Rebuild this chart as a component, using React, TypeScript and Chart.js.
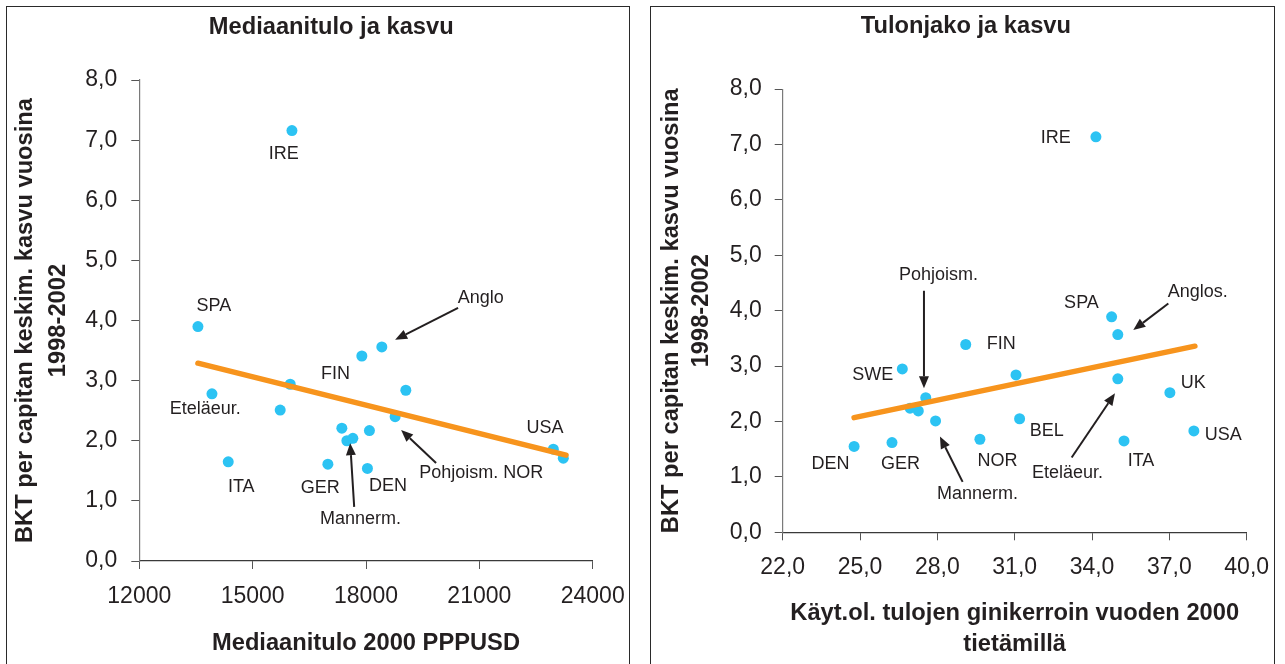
import React, { useEffect, useRef } from 'react';
import { Chart, registerables } from 'chart.js';

Chart.register(...registerables);

const FONT = '"Liberation Sans", Arial, sans-serif';
const INK = '#231f20';
const DOT = '#2cc3f3';
const TREND = '#f7941d';
const BOLD_SIZE = 23.7;

// ---------- shared ----------
const yTickLabels = ['0,0', '1,0', '2,0', '3,0', '4,0', '5,0', '6,0', '7,0', '8,0'];

// ---------- left panel: median income vs growth ----------
const leftXTickLabels = ['12000', '15000', '18000', '21000', '24000'];
const leftIncome = [16040, 13552, 13923, 14354, 15729, 15994, 17890, 18419, 19054, 18771, 17361, 18091, 17494, 17652, 16991, 18038, 22958, 23222];
const leftGrowth = [7.16, 3.90, 2.78, 1.65, 2.51, 2.94, 3.41, 3.56, 2.84, 2.40, 2.21, 2.17, 2.00, 2.04, 1.61, 1.54, 1.86, 1.71];
const leftTrendX = [13552, 23294];
const leftTrendY = [3.29, 1.76];
const leftNoteText = ['IRE', 'SPA', 'Eteläeur.', 'ITA', 'FIN', 'Anglo', 'USA', 'Pohjoism. NOR', 'GER', 'DEN', 'Mannerm.'];
const leftNoteX = [15822, 13976, 13746, 14698, 17192, 21038, 22739, 21051, 16787, 18581, 17853];
const leftNoteY = [6.77, 4.24, 2.53, 1.23, 3.11, 4.37, 2.21, 1.46, 1.21, 1.24, 0.69];
const leftArrowFromX = [20437, 19855, 17687];
const leftArrowFromY = [4.21, 1.63, 0.90];
const leftArrowToX = [18771, 18930, 17581];
const leftArrowToY = [3.68, 2.18, 1.96];

// ---------- right panel: Gini vs growth ----------
const rightXTickLabels = ['22,0', '25,0', '28,0', '31,0', '34,0', '37,0', '40,0'];
const rightGini = [34.15, 34.76, 35.0, 29.10, 26.64, 31.05, 35.0, 37.02, 27.55, 26.94, 27.26, 27.93, 31.19, 37.95, 29.65, 35.24, 26.24, 24.77];
const rightGrowth = [7.14, 3.89, 3.57, 3.39, 2.95, 2.84, 2.77, 2.52, 2.43, 2.24, 2.19, 2.01, 2.05, 1.83, 1.68, 1.65, 1.62, 1.55];
const rightTrendX = [24.77, 37.99];
const rightTrendY = [2.07, 3.36];
const rightNoteText = ['IRE', 'Pohjoism.', 'SPA', 'Anglos.', 'FIN', 'SWE', 'UK', 'BEL', 'USA', 'NOR', 'ITA', 'DEN', 'GER', 'Eteläeur.', 'Mannerm.'];
const rightNoteX = [32.59, 28.04, 33.59, 38.10, 30.48, 25.49, 37.93, 32.24, 39.09, 30.33, 35.90, 23.85, 26.57, 33.05, 29.56];
const rightNoteY = [7.12, 4.65, 4.13, 4.33, 3.40, 2.84, 2.69, 1.83, 1.76, 1.29, 1.29, 1.23, 1.23, 1.07, 0.69];
const rightArrowFromX = [27.48, 36.96, 28.98, 33.21];
const rightArrowFromY = [4.36, 4.13, 0.91, 1.35];
const rightArrowToX = [27.48, 35.60, 28.10, 34.89];
const rightArrowToY = [2.60, 3.65, 1.73, 2.51];

type Notes = {
  text: string[]; nx: number[]; ny: number[];
  ax0: number[]; ay0: number[]; ax1: number[]; ay1: number[];
};

function makeNotesPlugin(n: Notes) {
  return {
    id: 'pointNotes',
    afterDatasetsDraw(chart: any) {
      const { ctx } = chart;
      const xs = chart.scales.x;
      const ys = chart.scales.y;
      ctx.save();
      ctx.fillStyle = INK;
      ctx.strokeStyle = INK;
      ctx.font = `18px ${FONT}`;
      ctx.textAlign = 'center';
      ctx.textBaseline = 'middle';
      n.text.forEach((t, i) => {
        ctx.fillText(t, xs.getPixelForValue(n.nx[i]), ys.getPixelForValue(n.ny[i]));
      });
      ctx.lineWidth = 2;
      n.ax0.forEach((_, i) => {
        const x0 = xs.getPixelForValue(n.ax0[i]);
        const y0 = ys.getPixelForValue(n.ay0[i]);
        const x1 = xs.getPixelForValue(n.ax1[i]);
        const y1 = ys.getPixelForValue(n.ay1[i]);
        const ang = Math.atan2(y1 - y0, x1 - x0);
        const hl = 12;
        const hw = 5;
        const bx = x1 - hl * Math.cos(ang);
        const by = y1 - hl * Math.sin(ang);
        ctx.beginPath();
        ctx.moveTo(x0, y0);
        ctx.lineTo(bx, by);
        ctx.stroke();
        ctx.beginPath();
        ctx.moveTo(x1, y1);
        ctx.lineTo(bx + hw * Math.sin(ang), by - hw * Math.cos(ang));
        ctx.lineTo(bx - hw * Math.sin(ang), by + hw * Math.cos(ang));
        ctx.closePath();
        ctx.fill();
      });
      ctx.restore();
    },
  };
}

type PanelSpec = {
  title: string;
  xs: number[]; ys: number[]; tx: number[]; ty: number[];
  xMin: number; xMax: number; xStep: number; xTickLabels: string[];
  xTitle: string | string[]; xTitleLH: number; xTitlePadBottom: number;
  yTitleLH: number; yTitlePadTop: number;
  padLeft: number; padRight: number; yAxisWidth: number; xAxisHeight: number;
  titlePadTop: number; titlePadBottom: number; yTickPad: number; xTickPad: number;
  notes: Notes;
};

function buildConfig(p: PanelSpec): any {
  return {
    type: 'scatter',
    data: {
      datasets: [
        {
          type: 'line',
          data: p.tx.map((x, i) => ({ x, y: p.ty[i] })),
          borderColor: TREND,
          borderWidth: 5.5,
          borderCapStyle: 'round',
          pointRadius: 0,
          fill: false,
          tension: 0,
        },
        {
          data: p.xs.map((x, i) => ({ x, y: p.ys[i] })),
          backgroundColor: DOT,
          borderWidth: 0,
          pointRadius: 5.5,
        },
      ],
    },
    options: {
      responsive: false,
      maintainAspectRatio: false,
      animation: false,
      devicePixelRatio: 1,
      layout: { padding: { left: p.padLeft, right: p.padRight, top: 0, bottom: 0 } },
      plugins: {
        legend: { display: false },
        tooltip: { enabled: false },
        title: {
          display: true,
          text: p.title,
          color: INK,
          font: { family: FONT, size: BOLD_SIZE, weight: 'bold', lineHeight: 1.2 },
          padding: { top: p.titlePadTop, bottom: p.titlePadBottom },
        },
      },
      scales: {
        x: {
          type: 'linear',
          min: p.xMin,
          max: p.xMax,
          afterFit: (s: any) => { s.height = p.xAxisHeight; },
          ticks: {
            stepSize: p.xStep,
            autoSkip: false,
            maxRotation: 0,
            padding: p.xTickPad,
            color: INK,
            font: { family: FONT, size: 23, lineHeight: 1.2 },
            callback: (_v: any, i: number) => p.xTickLabels[i],
          },
          grid: { display: true, drawOnChartArea: false, drawTicks: true, tickLength: 8, color: '#555555', lineWidth: 1 },
          border: { display: true, color: '#3a3a3a', width: 1.2 },
          title: {
            display: true,
            text: p.xTitle,
            color: INK,
            font: { family: FONT, size: BOLD_SIZE, weight: 'bold', lineHeight: p.xTitleLH },
            padding: { top: 0, bottom: p.xTitlePadBottom },
          },
        },
        y: {
          type: 'linear',
          min: 0,
          max: 8,
          afterFit: (s: any) => { s.width = p.yAxisWidth; },
          ticks: {
            stepSize: 1,
            padding: p.yTickPad,
            color: INK,
            font: { family: FONT, size: 23, lineHeight: 1.2 },
            callback: (_v: any, i: number) => yTickLabels[i],
          },
          grid: { display: true, drawOnChartArea: false, drawTicks: true, tickLength: 8, color: '#555555', lineWidth: 1 },
          border: { display: true, color: '#7a7a7a', width: 1.2 },
          title: {
            display: true,
            text: ['BKT per capitan keskim. kasvu vuosina', '1998-2002'],
            color: INK,
            font: { family: FONT, size: BOLD_SIZE, weight: 'bold', lineHeight: p.yTitleLH },
            padding: { top: p.yTitlePadTop, bottom: 0 },
          },
        },
      },
    },
    plugins: [makeNotesPlugin(p.notes)],
  };
}

const leftSpec: PanelSpec = {
  title: 'Mediaanitulo ja kasvu',
  xs: leftIncome, ys: leftGrowth, tx: leftTrendX, ty: leftTrendY,
  xMin: 12000, xMax: 24000, xStep: 3000, xTickLabels: leftXTickLabels,
  xTitle: 'Mediaanitulo 2000 PPPUSD', xTitleLH: 1.2, xTitlePadBottom: 6.8,
  yTitleLH: 32.7 / BOLD_SIZE, yTitlePadTop: -60.15,
  padLeft: 69.7, padRight: 47.3, yAxisWidth: 69.6, xAxisHeight: 103,
  titlePadTop: 12.8, titlePadBottom: 38.8, yTickPad: 14, xTickPad: 14,
  notes: {
    text: leftNoteText, nx: leftNoteX, ny: leftNoteY,
    ax0: leftArrowFromX, ay0: leftArrowFromY, ax1: leftArrowToX, ay1: leftArrowToY,
  },
};

const rightSpec: PanelSpec = {
  title: 'Tulonjako ja kasvu',
  xs: rightGini, ys: rightGrowth, tx: rightTrendX, ty: rightTrendY,
  xMin: 22, xMax: 40, xStep: 3, xTickLabels: rightXTickLabels,
  xTitle: ['Käyt.ol. tulojen ginikerroin vuoden 2000', 'tietämillä'], xTitleLH: 31 / BOLD_SIZE, xTitlePadBottom: 4.5,
  yTitleLH: 30.2 / BOLD_SIZE, yTitlePadTop: -28.8,
  padLeft: 45.1, padRight: 38.3, yAxisWidth: 97.6, xAxisHeight: 131.7,
  titlePadTop: 11.8, titlePadBottom: 48.9, yTickPad: 13, xTickPad: 14,
  notes: {
    text: rightNoteText, nx: rightNoteX, ny: rightNoteY,
    ax0: rightArrowFromX, ay0: rightArrowFromY, ax1: rightArrowToX, ay1: rightArrowToY,
  },
};

function Panel({ spec, left, width }: { spec: PanelSpec; left: number; width: number }) {
  const ref = useRef<HTMLCanvasElement>(null);
  useEffect(() => {
    const chart = new Chart(ref.current as HTMLCanvasElement, buildConfig(spec));
    return () => chart.destroy();
  }, [spec]);
  return (
    <canvas
      ref={ref}
      width={width}
      height={664}
      style={{ position: 'absolute', left, top: 0, width, height: 664, display: 'block' }}
    />
  );
}

export default function App() {
  return (
    <div style={{ position: 'absolute', left: 0, top: 0, width: 1285, height: 664, overflow: 'hidden', background: '#ffffff' }}>
      <div style={{ position: 'absolute', left: 6, top: 6, width: 622, height: 700, border: '1px solid #2a2a2a' }} />
      <div style={{ position: 'absolute', left: 650, top: 6, width: 623, height: 700, border: '1px solid #2a2a2a' }} />
      <Panel spec={leftSpec} left={0} width={640} />
      <Panel spec={rightSpec} left={640} width={645} />
    </div>
  );
}
